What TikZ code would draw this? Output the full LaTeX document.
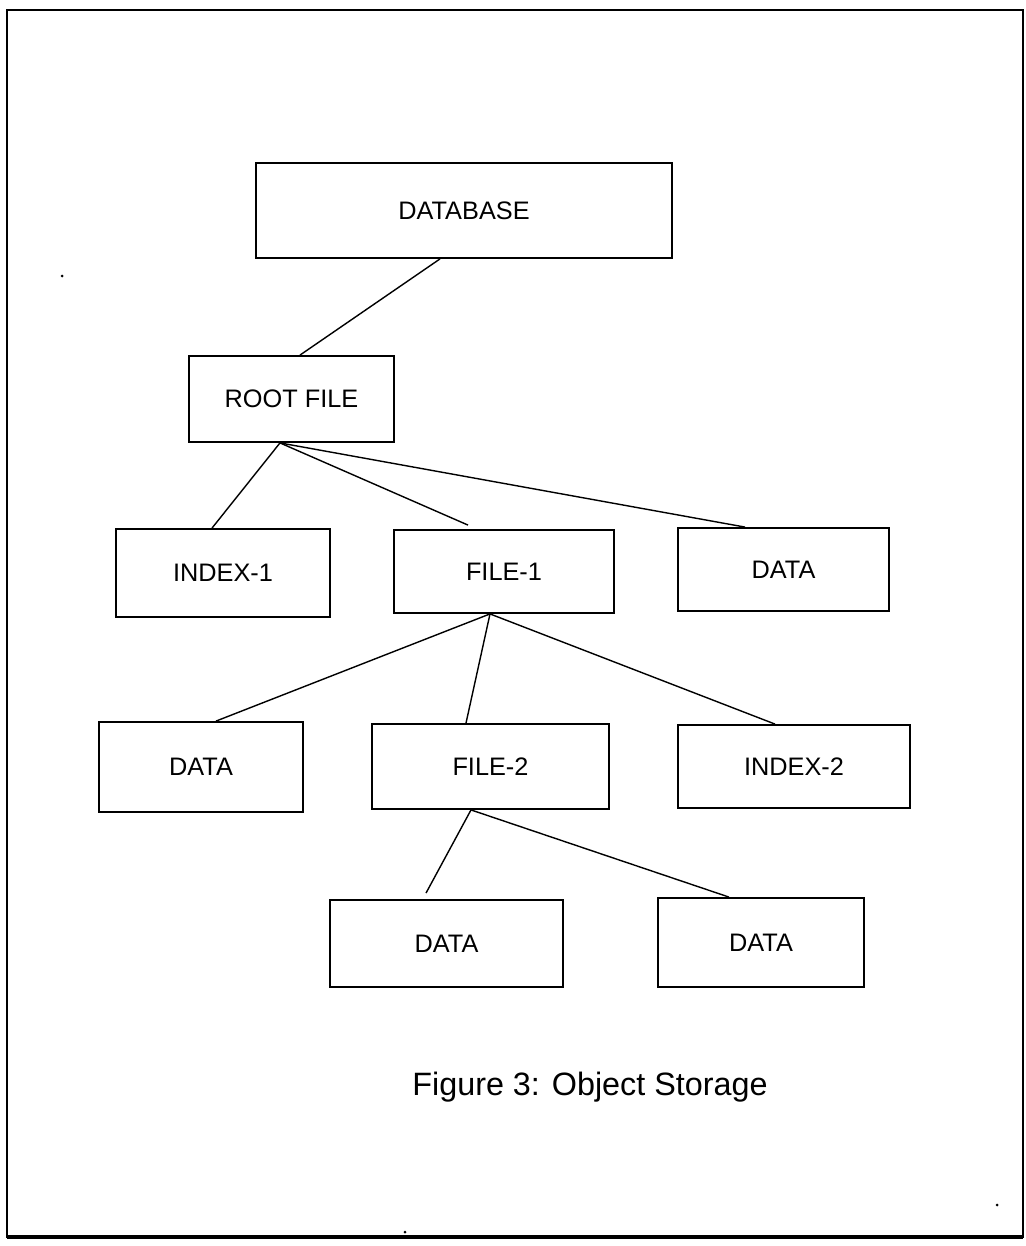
\documentclass[tikz,border=0pt]{standalone}
\usepackage{fontspec}
\setmainfont{Liberation Sans}
\usepackage{tikz}
\tikzset{
  store box/.style={
    draw, rectangle, line width=1.3pt,
    inner sep=0pt,
    font=\fontsize{18}{21}\selectfont
  },
  link line/.style={
    line width=1pt, draw=black
  },
  frame line/.style={
    line width=1.4pt
  },
}

\begin{document}
\begin{tikzpicture}[x=0.25mm, y=-0.25mm]

  \useasboundingbox (0,0) rectangle (1025,1246);
  \draw[frame line] (7,10) rectangle (1023,1237);
  \draw[line width=2.8pt] (7,1237) -- (1023,1237);

  \node[store box, minimum width=104mm, minimum height=23.75mm]
    (database) at (464,210.5) {DATABASE};

  \node[store box, minimum width=51.25mm, minimum height=21.5mm]
    (rootfile) at (291.5,399) {ROOT FILE};

  \node[store box, minimum width=53.5mm, minimum height=22mm]
    (index1) at (223,573) {INDEX-1};
  \node[store box, minimum width=55mm, minimum height=20.75mm]
    (file1)  at (504,571.5) {FILE-1};
  \node[store box, minimum width=52.75mm, minimum height=20.75mm]
    (dataA)  at (783.5,569.5) {DATA};

  \node[store box, minimum width=51mm, minimum height=22.5mm]
    (dataB)  at (201,767) {DATA};
  \node[store box, minimum width=59.25mm, minimum height=21.25mm]
    (file2)  at (490.5,766.5) {FILE-2};
  \node[store box, minimum width=58mm, minimum height=20.75mm]
    (index2) at (794,766.5) {INDEX-2};

  \node[store box, minimum width=58.25mm, minimum height=21.75mm]
    (dataC)  at (446.5,943.5) {DATA};
  \node[store box, minimum width=51.5mm, minimum height=22.25mm]
    (dataD)  at (761,942.5) {DATA};

  \node[anchor=base, font=\fontsize{23}{27}\selectfont]
    (caption) at (590,1095) {Figure 3: Object Storage};

  \coordinate (rootjoin)  at ([xshift=-2.875mm]rootfile.south);
  \coordinate (file1join) at ([xshift=-3.5mm]file1.south);
  \coordinate (file2join) at ([xshift=-4.875mm]file2.south);

  \draw[link line] ([xshift=-6mm]database.south) -- ([xshift=2.125mm]rootfile.north);
  \draw[link line] (rootjoin) -- ([xshift=-2.75mm]index1.north);
  \draw[link line] (rootjoin) -- ([xshift=-9mm, yshift=1mm]file1.north);
  \draw[link line] (rootjoin) -- ([xshift=-9.625mm]dataA.north);
  \draw[link line] (file1join) -- ([xshift=3.75mm]dataB.north);
  \draw[link line] (file1join) -- ([xshift=-6.125mm]file2.north);
  \draw[link line] (file1join) -- ([xshift=-4.75mm]index2.north);
  \draw[link line] (file2join) -- ([xshift=-5.125mm, yshift=1.5mm]dataC.north);
  \draw[link line] (file2join) -- ([xshift=-8mm]dataD.north);

  % specks of the scan
  \fill (62,276) circle (1.5);
  \fill (997,1205) circle (1.5);
  \fill (405,1232) circle (1.5);

\end{tikzpicture}
\end{document}
